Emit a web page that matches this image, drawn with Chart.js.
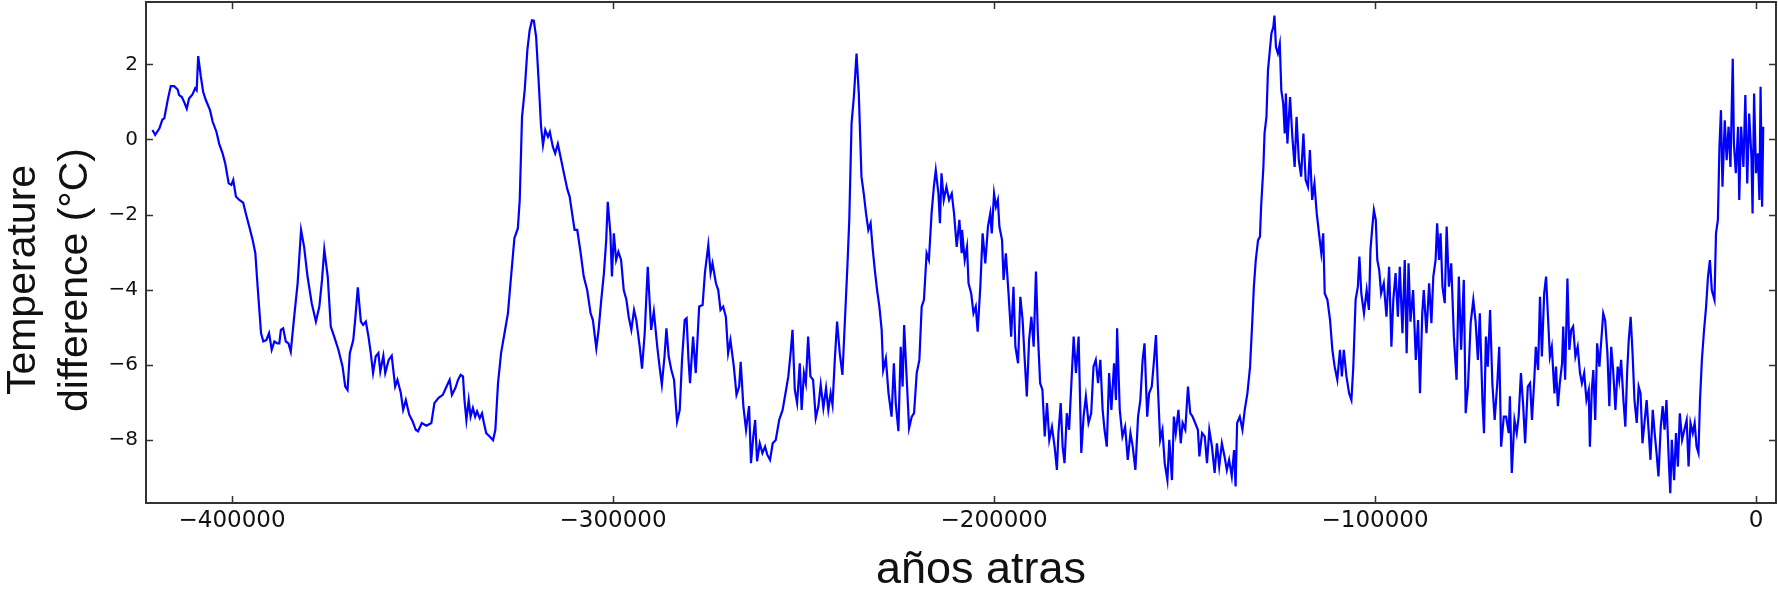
<!DOCTYPE html>
<html>
<head>
<meta charset="utf-8">
<script src="https://cdn.jsdelivr.net/npm/chart.js@4"></script>
<style>
  html, body { margin: 0; padding: 0; background: #fff; }
</style>
</head>
<body>
<canvas id="myChart" width="1778" height="594"></canvas>
<script>
// Vostok temperature record, age in thousands of years (negative = before present)
const ageKyr = [
  -420.9, -420.2, -419.1, -418.3, -417.8, -416.9, -416.1, -415.2, -414.3, -413.9,
  -413.2, -412.6, -411.9, -411.3, -410.4, -409.7, -409.3, -408.9, -408.2, -407.6,
  -406.9, -405.8, -405.1, -404.1, -403.4, -402.5, -401.8, -400.9, -400.2, -399.7,
  -399.0, -398.1, -397.1, -396.4, -395.5, -394.6, -393.9, -393.3, -392.4, -391.8,
  -391.0, -390.3, -389.6, -388.9, -388.1, -387.6, -387.2, -386.6, -385.9, -385.2,
  -384.6, -383.7, -382.8, -381.9, -381.1, -380.2, -379.1, -378.0, -377.1, -376.4,
  -375.8, -374.9, -374.1, -373.2, -372.1, -371.0, -370.3, -369.7, -369.1, -368.2,
  -367.7, -367.0, -366.2, -365.6, -364.9, -364.2, -363.6, -363.0, -362.3, -361.6,
  -361.1, -360.3, -359.8, -358.9, -358.1, -357.2, -356.6, -355.7, -355.1, -354.4,
  -353.5, -352.6, -351.8,
  -351.2, -350.2, -349.0, -347.7, -346.9, -345.8, -344.7, -343.5, -342.9, -342.3,
  -341.4, -340.7, -340.0, -339.4, -339.0, -338.5, -337.9, -337.4, -336.8, -336.2,
  -335.7, -335.0, -334.4, -333.9, -333.3, -332.4, -331.5, -330.9, -330.2, -329.4,
  -328.5, -327.6, -326.7, -325.9, -325.0, -324.5, -323.9, -323.2, -322.5, -321.9,
  -321.3, -320.8, -320.2, -319.6, -318.9, -318.4, -317.8, -317.1, -316.6, -315.8,
  -315.2, -314.5, -313.8, -312.9, -312.0, -311.4, -310.5, -310.1, -309.4, -308.5,
  -307.7, -306.8, -305.9, -305.3, -304.4, -303.8, -303.1, -302.4, -301.8, -301.4,
  -300.7, -300.3, -299.8, -299.2, -298.6, -297.9, -297.2, -296.5, -295.9, -295.2,
  -294.5, -293.9, -293.0, -292.4, -291.7, -290.9, -290.0, -289.3, -288.4, -287.8,
  -287.2, -286.5, -286.0, -285.4, -284.7, -284.0, -283.2, -282.5, -281.9, -281.2,
  -280.7, -280.2,
  -279.8, -279.0, -278.3, -277.4, -276.5, -275.9, -275.0, -274.4, -273.9, -273.0,
  -272.4, -271.8, -271.1, -270.4, -269.8, -269.2, -268.3, -267.6, -266.9, -266.5,
  -265.8, -265.1, -264.3, -263.8, -263.2, -262.7, -262.2, -261.5, -260.8, -260.1,
  -259.5, -258.8, -258.1, -257.3, -256.4, -255.5, -254.6, -254.0, -253.4, -252.9,
  -252.3, -251.7, -251.0, -250.5, -249.9, -249.4, -248.8, -248.2, -247.5, -246.8,
  -246.1, -245.5, -244.8, -244.1, -243.5, -242.9, -242.4, -241.8, -241.2, -240.5,
  -239.8, -239.1, -238.5, -238.0, -237.4, -236.8, -236.1, -235.5, -234.8, -234.2,
  -233.6, -233.0, -232.4, -231.9, -231.3, -230.7, -230.1, -229.5, -229.1, -228.4,
  -227.7, -226.9, -226.3, -225.8, -225.1, -224.5, -224.0, -223.6, -223.0, -222.3,
  -221.6, -221.0, -220.3, -219.6, -219.0, -218.4, -217.7, -217.1, -216.4, -215.8,
  -215.3, -214.6, -214.2, -213.8, -213.2, -212.5, -211.8, -211.1, -210.5, -209.8,
  -209.1, -208.5,
  -208.4, -207.7, -207.1, -206.7, -206.0, -205.4, -204.8, -204.3, -203.6, -203.0,
  -202.3, -201.6, -201.0, -200.6, -200.0, -199.5, -199.0, -198.6, -197.9, -197.5,
  -196.9, -196.2, -195.5, -194.9, -194.4, -193.7, -193.1, -192.5, -192.0, -191.4,
  -190.8, -190.2, -189.6, -189.0, -188.5, -187.9, -187.3, -186.7, -186.1, -185.5,
  -184.8, -184.1, -183.5, -183.1, -182.5, -182.0, -181.5, -180.9, -180.3, -179.7,
  -179.1, -178.5, -177.8, -177.1, -176.5, -175.9, -175.2, -174.5, -173.9, -173.3,
  -172.7, -172.1, -171.5, -171.0, -170.4, -169.8, -169.2, -168.5, -168.0, -167.7,
  -167.0, -166.3, -165.6, -164.9, -164.2, -163.6, -162.9, -162.2, -161.6, -161.0,
  -160.5, -159.8, -159.3, -158.6, -158.0, -157.5, -157.0, -156.4, -155.8, -155.2,
  -154.5, -154.0, -153.3, -152.8, -152.3, -151.6, -151.0, -150.5, -149.8, -149.1,
  -148.5, -147.9, -147.2, -146.5, -146.1, -145.4, -144.7, -144.1, -143.5, -142.8,
  -142.1, -141.5, -140.9, -140.2, -139.5, -138.9, -138.3, -137.6,
  -137.0, -136.6, -136.2, -135.5, -134.8, -134.2, -133.5, -132.8, -132.2, -131.8,
  -131.3, -130.7, -130.2, -129.9, -129.3, -129.0, -128.5, -128.1, -127.6, -127.2,
  -126.7, -126.4, -126.0, -125.5, -125.0, -124.6, -124.1, -123.7, -123.4, -123.0,
  -122.3, -121.7, -121.1, -120.6, -120.0, -119.4, -118.8, -118.2, -117.6, -117.1,
  -116.5, -115.9, -115.3, -114.7, -114.1, -113.6, -113.2, -112.5, -111.8, -111.2,
  -110.6, -109.9, -109.2, -108.7, -108.2, -107.5, -106.8, -106.2, -105.7, -105.1,
  -104.5, -104.1, -103.6, -102.9, -102.2, -101.6, -101.2, -100.7, -100.3, -99.8,
  -99.4, -98.9, -98.4, -97.7, -97.0, -96.3, -95.7, -95.2, -94.6, -94.0,
  -93.5, -92.8, -92.2, -91.7, -91.2, -90.7, -90.0, -89.3, -88.7, -88.2,
  -87.6, -87.2, -86.5, -85.8, -85.2, -84.7, -84.1, -83.7, -83.2, -82.8,
  -82.3, -81.7, -81.2, -80.6, -80.0, -79.3, -78.6, -78.0, -77.4, -76.7,
  -76.2, -75.6, -74.9, -74.2, -73.6, -73.0, -72.5, -71.8, -71.4, -70.9,
  -70.4, -69.8, -69.2, -68.6, -67.9, -67.4, -66.9, -66.2,
  -65.6, -64.9, -64.6, -64.1, -63.4, -62.8, -62.3, -61.7, -61.1, -60.6,
  -59.9, -59.3, -58.8, -58.2, -57.8, -57.2, -56.7, -56.2, -55.6, -55.1,
  -54.6, -54.1, -53.6, -52.9, -52.5, -52.0, -51.5, -50.9, -50.6, -50.1,
  -49.5, -49.0, -48.5, -48.0, -47.4, -46.8, -46.2, -45.7, -45.1, -44.5,
  -43.9, -43.6, -43.1, -42.7, -42.2, -41.7, -41.1, -40.6, -40.1, -39.6,
  -39.0, -38.5, -38.0, -37.5, -36.9, -36.3, -35.9, -35.4, -34.8, -34.3,
  -33.8, -33.4, -32.9, -32.4, -31.9, -31.3, -30.8, -30.3, -29.8, -29.2,
  -28.7, -28.2, -27.7, -27.1, -26.6, -26.1, -25.6, -25.0, -24.5, -24.0,
  -23.5, -22.9, -22.5, -22.1, -21.5, -21.0, -20.5, -20.0, -19.4, -18.8,
  -18.2, -17.7, -17.2, -16.6, -16.1, -15.6, -15.1, -14.7, -14.2, -13.7,
  -13.1, -12.6, -12.1, -11.6, -10.9, -10.5, -10.0, -9.6, -9.2, -8.8,
  -8.2, -7.7, -7.2, -6.7, -6.1, -5.8, -5.3, -4.7, -4.4, -3.9,
  -3.3, -2.8, -2.3, -1.8, -1.2, -0.9, -0.5, 0.0, 0.5, 0.9,
  1.2, 1.6, 1.9
];

// temperature difference from present, °C
const tempDiff = [
  0.25, 0.12, 0.29, 0.53, 0.56, 1.05, 1.42, 1.42, 1.33, 1.18,
  1.13, 1.00, 0.82, 1.09, 1.20, 1.36, 1.31, 2.22, 1.67, 1.27,
  1.05, 0.78, 0.47, 0.20, -0.11, -0.37, -0.64, -1.17, -1.21, -1.08,
  -1.52, -1.61, -1.68, -1.97, -2.32, -2.68, -3.03, -3.92, -5.16, -5.38,
  -5.34, -5.16, -5.60, -5.38, -5.43, -5.43, -5.07, -5.03, -5.38, -5.43,
  -5.65, -4.72, -3.83, -2.41, -2.86, -3.65, -4.36, -4.85, -4.45, -3.74,
  -2.93, -3.65, -4.98, -5.25, -5.60, -6.05, -6.58, -6.67, -5.69, -5.34,
  -4.81, -3.94, -4.85, -4.94, -4.85, -5.25, -5.69, -6.22, -5.78, -5.69,
  -6.18, -5.76, -6.22, -5.87, -5.76, -6.58, -6.40, -6.76, -7.20, -6.94,
  -7.33, -7.51, -7.73,
  -7.77, -7.55, -7.62, -7.55, -7.02, -6.88, -6.80, -6.53, -6.40, -6.80,
  -6.62, -6.40, -6.27, -6.31, -6.94, -7.47, -6.94, -7.38, -7.15, -7.38,
  -7.24, -7.42, -7.29, -7.55, -7.82, -7.91, -8.01, -7.73, -6.49, -5.69,
  -5.16, -4.63, -3.56, -2.63, -2.37, -1.61, 0.60, 1.31, 2.38, 2.91,
  3.17, 3.16, 2.73, 1.67, 0.34, -0.15, 0.25, 0.07, 0.20, -0.20,
  -0.37, -0.12, -0.46, -0.90, -1.33, -1.52, -2.14, -2.41, -2.41, -3.03,
  -3.65, -4.01, -4.63, -4.81, -5.56, -5.07, -4.27, -3.56, -2.68, -1.66,
  -2.50, -3.65, -2.50, -3.21, -2.99, -3.21, -4.01, -4.27, -4.72, -5.07,
  -4.54, -4.81, -5.52, -6.10, -5.16, -3.39, -5.07, -4.58, -5.52, -6.05,
  -6.53, -5.78, -5.03, -5.78, -6.14, -6.40, -7.51, -7.20, -5.87, -4.81,
  -4.76, -5.87,
  -6.49, -5.25, -6.22, -4.45, -4.41, -3.56, -2.81, -3.56, -3.30, -3.83,
  -4.01, -4.54, -4.45, -4.72, -5.69, -5.34, -6.05, -6.80, -6.58, -5.92,
  -7.10, -7.73, -7.10, -8.62, -7.91, -7.47, -8.57, -8.09, -8.35, -8.18,
  -8.40, -8.53, -8.09, -8.00, -7.47, -7.20, -6.67, -6.31, -5.69, -5.07,
  -6.67, -7.02, -5.96, -7.20, -6.22, -6.49, -5.25, -6.31, -6.40, -7.42,
  -7.10, -6.53, -7.15, -6.62, -7.20, -6.76, -7.07, -5.87, -4.85, -5.69,
  -6.27, -4.72, -3.39, -2.14, 0.43, 1.13, 2.29, 1.22, -0.99, -1.44,
  -1.97, -2.41, -2.23, -2.86, -3.48, -4.01, -4.45, -5.07, -6.14, -5.83,
  -6.76, -7.38, -5.96, -7.02, -7.77, -5.52, -6.58, -4.94, -6.22, -7.69,
  -7.38, -7.29, -6.22, -5.87, -4.45, -4.27, -3.03, -3.21, -1.97, -1.26,
  -0.82, -1.44, -2.23, -0.90, -1.61, -1.26, -1.61, -1.44, -1.97, -2.86,
  -2.14, -3.03,
  -2.41, -3.21, -2.86, -3.83, -4.10, -4.63, -4.45, -5.12, -3.92, -2.50,
  -3.30, -2.32, -1.97, -2.50, -1.44, -1.79, -1.61, -2.32, -2.68, -3.74,
  -3.03, -4.10, -5.25, -3.92, -5.52, -5.96, -4.19, -4.81, -5.78, -6.84,
  -5.34, -4.72, -5.52, -3.52, -5.16, -6.49, -6.67, -7.91, -7.02, -8.00,
  -7.65, -8.18, -8.80, -7.82, -7.02, -8.18, -8.62, -7.29, -7.73, -6.49,
  -5.25, -6.22, -5.25, -8.35, -7.38, -6.84, -7.55, -7.29, -6.05, -5.87,
  -6.49, -5.87, -7.20, -7.73, -8.18, -6.22, -7.20, -5.96, -6.94, -5.03,
  -7.20, -7.91, -7.65, -8.53, -7.82, -8.18, -8.80, -7.38, -6.94, -5.87,
  -5.43, -7.38, -6.76, -6.58, -5.87, -5.21, -6.58, -8.00, -7.73, -8.62,
  -9.07, -8.00, -9.07, -7.38, -7.82, -7.20, -8.09, -7.55, -7.73, -6.58,
  -7.29, -7.38, -7.55, -7.73, -8.44, -7.82, -7.91, -8.62, -7.73, -8.18,
  -8.88, -8.09, -8.71, -8.09, -8.44, -8.80, -8.53, -8.97,
  -8.27, -9.24, -7.55, -7.38, -7.73, -7.20, -6.76, -6.05, -4.81, -3.92,
  -3.21, -2.68, -2.59, -1.79, -0.73, 0.16, 0.60, 1.84, 2.38, 2.82,
  2.99, 3.30, 2.46, 2.29, 2.55, 1.31, 0.96, 0.16, 1.22, -0.11,
  1.13, 0.07, -0.73, 0.60, -0.55, -0.99, 0.16, -1.08, -1.26, -0.28,
  -1.61, -1.17, -1.97, -2.50, -3.03, -2.50, -4.10, -4.27, -4.81, -5.60,
  -6.05, -6.40, -5.60, -6.31, -5.60, -6.31, -6.76, -6.94, -6.05, -4.27,
  -3.92, -3.12, -4.10, -4.63, -4.01, -4.54, -2.94, -2.32, -1.88, -2.14,
  -3.21, -3.48, -4.10, -3.83, -4.72, -3.39, -5.52, -4.27, -3.56, -4.72,
  -3.39, -5.16, -3.21, -5.69, -3.30, -4.85, -4.01, -5.87, -4.81, -6.76,
  -4.63, -4.01, -5.16, -3.83, -4.89, -3.65, -3.21, -2.23, -3.21, -2.50,
  -3.92, -4.36, -2.32, -3.92, -3.30, -5.25, -6.40, -3.65, -5.60, -3.74,
  -7.29, -6.58, -4.89, -4.27, -4.85, -5.87, -4.63, -6.94, -7.82, -5.25,
  -6.05, -4.54, -6.49, -7.47, -6.49, -5.52, -8.18, -7.38,
  -7.38, -7.82, -6.84, -8.88, -7.47, -7.82, -7.38, -6.22, -7.10, -8.09,
  -6.58, -6.49, -7.47, -6.40, -5.52, -6.14, -4.19, -5.78, -4.10, -3.65,
  -4.72, -5.78, -5.52, -6.76, -6.05, -7.10, -6.49, -5.96, -4.98, -6.40,
  -3.70, -5.60, -5.07, -4.98, -5.78, -5.52, -6.22, -6.49, -6.22, -6.94,
  -6.67, -8.18, -6.67, -6.14, -7.47, -5.43, -6.05, -5.34, -4.63, -4.81,
  -5.69, -7.10, -5.52, -6.14, -7.20, -6.05, -6.40, -5.87, -6.94, -7.65,
  -6.14, -5.34, -4.72, -5.69, -6.94, -7.55, -6.58, -6.76, -8.09, -7.47,
  -6.94, -7.73, -8.53, -7.20, -7.82, -8.35, -8.97, -7.65, -7.10, -7.73,
  -6.94, -8.53, -9.42, -8.00, -9.07, -7.82, -8.71, -7.29, -8.00, -7.73,
  -7.47, -8.71, -7.55, -7.82, -7.55, -8.18, -8.35, -6.94, -5.87, -5.16,
  -4.45, -3.65, -3.21, -4.01, -4.27, -2.50, -2.14, -0.20, 0.78, -1.26,
  0.51, -0.55, 0.34, -0.73, 2.15, -0.11, -0.90, 0.34, -1.61, 0.34,
  -0.73, 1.18, -1.17, 0.69, -0.46, -1.97, 1.22, -0.90, -0.37, -1.61,
  1.40, -1.79, 0.34
];

const xTicks = [-400000, -300000, -200000, -100000, 0];
const yTicks = [-8, -6, -4, -2, 0, 2];
const xLimits = [-422600, 5250];
const yLimits = [-9.68, 3.66];

const xTitle = 'años atras';
const yTitle = ['Temperature', 'difference (°C)'];

const points = ageKyr.map((a, i) => ({ x: a * 1000, y: tempDiff[i] }));

const axisColor = '#333';
const tickFont = 'DejaVu Sans';
const titleFont = '"Liberation Sans", Arial, sans-serif';

function minusLabel(v) {
  return v < 0 ? '\u2212' + Math.abs(v) : String(v);
}

// box around the plot, inward ticks on all four sides, axis titles
const framePlugin = {
  id: 'frame',
  afterDraw(chart) {
    const { ctx, chartArea: a, scales } = chart;
    const len = 7;
    ctx.save();
    ctx.strokeStyle = axisColor;
    ctx.lineWidth = 1.5;
    ctx.beginPath();
    xTicks.forEach(v => {
      const px = Math.round(scales.x.getPixelForValue(v)) + 0.5;
      ctx.moveTo(px, a.bottom); ctx.lineTo(px, a.bottom - len);
      ctx.moveTo(px, a.top); ctx.lineTo(px, a.top + len);
    });
    yTicks.forEach(v => {
      const py = Math.round(scales.y.getPixelForValue(v)) + 0.5;
      ctx.moveTo(a.left, py); ctx.lineTo(a.left + len, py);
      ctx.moveTo(a.right, py); ctx.lineTo(a.right - len, py);
    });
    ctx.stroke();

    ctx.lineWidth = 2;
    ctx.strokeRect(a.left, a.top, a.right - a.left, a.bottom - a.top);

    ctx.fillStyle = '#111';
    ctx.textAlign = 'center';
    ctx.textBaseline = 'alphabetic';

    ctx.font = '45px ' + titleFont;
    ctx.fillText(xTitle, 981, 583);

    ctx.font = '41px ' + titleFont;
    ctx.translate(0, 280);
    ctx.rotate(-Math.PI / 2);
    ctx.fillText(yTitle[0], 0, 35);
    ctx.fillText(yTitle[1], 0, 87);
    ctx.restore();
  }
};

new Chart(document.getElementById('myChart'), {
  type: 'line',
  data: {
    datasets: [{
      data: points,
      borderColor: '#0000ff',
      borderWidth: 2.2,
      pointRadius: 0,
      tension: 0,
      fill: false
    }]
  },
  options: {
    responsive: false,
    animation: false,
    layout: { padding: { top: 2, right: 2, left: 0, bottom: 0 } },
    plugins: { legend: { display: false }, tooltip: { enabled: false } },
    scales: {
      x: {
        type: 'linear',
        min: xLimits[0],
        max: xLimits[1],
        afterBuildTicks: s => { s.ticks = xTicks.map(v => ({ value: v })); },
        afterFit: s => { s.height = 91; s.paddingLeft = 0; s.paddingRight = 0; },
        grid: { display: false, drawTicks: false },
        border: { display: false },
        ticks: {
          padding: 4,
          color: '#111',
          font: { family: tickFont, size: 23 },
          maxRotation: 0,
          callback: minusLabel
        }
      },
      y: {
        type: 'linear',
        min: yLimits[0],
        max: yLimits[1],
        afterBuildTicks: s => { s.ticks = yTicks.map(v => ({ value: v })); },
        afterFit: s => { s.width = 146; s.paddingTop = 0; s.paddingBottom = 0; },
        grid: { display: false, drawTicks: false },
        border: { display: false },
        ticks: {
          padding: 8,
          color: '#111',
          font: { family: tickFont, size: 20 },
          callback: minusLabel
        }
      }
    }
  },
  plugins: [framePlugin]
});
</script>
</body>
</html>
